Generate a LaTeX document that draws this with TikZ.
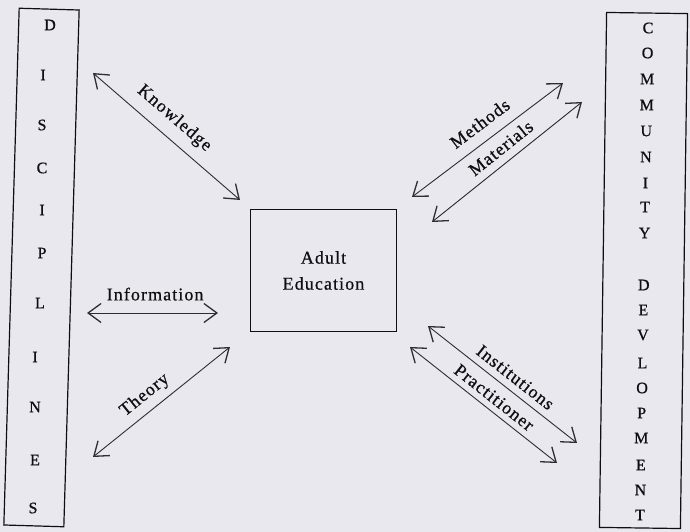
\documentclass[tikz,border=0pt]{standalone}
\usepackage{fontspec}
\setmainfont{Liberation Serif}
\newfontfamily\spaced[LetterSpace=6,FakeBold=0.6]{Liberation Serif}
\newfontfamily\column[FakeBold=0.8]{Liberation Serif}
\usetikzlibrary{arrows.meta}
\definecolor{paper}{RGB}{232,232,238}
\definecolor{ink}{RGB}{15,15,18}
\definecolor{pen}{RGB}{45,45,52}
\begin{document}
\begin{tikzpicture}[x=1pt,y=-1pt,
  barb/.tip={Straight Barb[length=13pt,width=19pt,line width=1.3pt]},
  link/.style={draw=pen, line width=0.9pt, barb-barb},
  lbl/.style={font=\spaced\fontsize{18}{20}\selectfont, text=ink, inner sep=0pt},
  letter/.style={font=\column\fontsize{16}{17}\selectfont, text=ink, inner sep=0pt},
  sidebox/.style={draw=ink, line width=1.2pt, inner sep=0pt},
  hub/.style={draw=ink, line width=1.2pt, inner sep=0pt, align=center,
    font=\spaced\fontsize{18}{26}\selectfont, text=ink}]

% page
\fill[paper] (0,0) rectangle (690,532);
\useasboundingbox (0,0) rectangle (690,532);

% the two side columns
\node[sidebox, minimum width=60pt, minimum height=517pt, rotate=-1.7] (disc) at (41.5,267.5) {};
\node[sidebox, minimum width=81pt, minimum height=515pt, rotate=-0.8] (comm) at (643.5,270.5) {};

% vertical lettering of the left column
\foreach \ch/\x/\y [count=\i] in {D/50/25, I/43/75, S/42/125, C/42/168, I/42/210, P/42/253,
    L/40/303, I/35/357, N/35/407, E/35/460, S/33/508}
  \node[letter] (d\i) at (\x,\y) {\ch};

% vertical lettering of the right column
\foreach \ch/\y [count=\i] in {C/28, O/53, M/79, M/105, U/131, N/157, I/183, T/207, Y/233,
    D/285, E/310, V/335, L/363, O/388, P/413, M/438, E/465, N/490, T/515}
  \node[letter] (c\i) at ({648-(\y-28)*8/487},\y) {\ch};

% central box
\node[hub, minimum width=146pt, minimum height=122pt] (adult) at (323.5,270.5) {Adult\\Education};

% arrow end points
\coordinate (k1) at (93,73);   \coordinate (k2) at (240,200);
\coordinate (f1) at (87,313);  \coordinate (f2) at (218,313);
\coordinate (t1) at (93,457);  \coordinate (t2) at (230,347);
\coordinate (m1) at (412,197); \coordinate (m2) at (563,83);
\coordinate (a1) at (432,222); \coordinate (a2) at (582,102);
\coordinate (i1) at (428,326); \coordinate (i2) at (577,443);
\coordinate (p1) at (410,347); \coordinate (p2) at (557,463);

% double-headed links
\draw[link] (k1) -- node[lbl, sloped, above=10pt, pos=0.47] (lk) {Knowledge} (k2);
\draw[link] (f1) -- node[lbl, above=12pt, pos=0.52] (lf) {Information} (f2);
\draw[link] (t1) -- node[lbl, sloped, above=7pt, pos=0.45] (lt) {Theory} (t2);
\draw[link] (m1) -- node[lbl, sloped, above=11pt, pos=0.52] (lm) {Methods} (m2);
\draw[link] (a1) -- node[lbl, sloped, above=8pt, pos=0.52] (la) {Materials} (a2);
\draw[link] (i1) -- node[lbl, sloped, above=7pt, pos=0.53] (li) {Institutions} (i2);
\draw[link] (p1) -- node[lbl, sloped, above=6pt, pos=0.52] (lp) {Practitioner} (p2);
\end{tikzpicture}
\end{document}
